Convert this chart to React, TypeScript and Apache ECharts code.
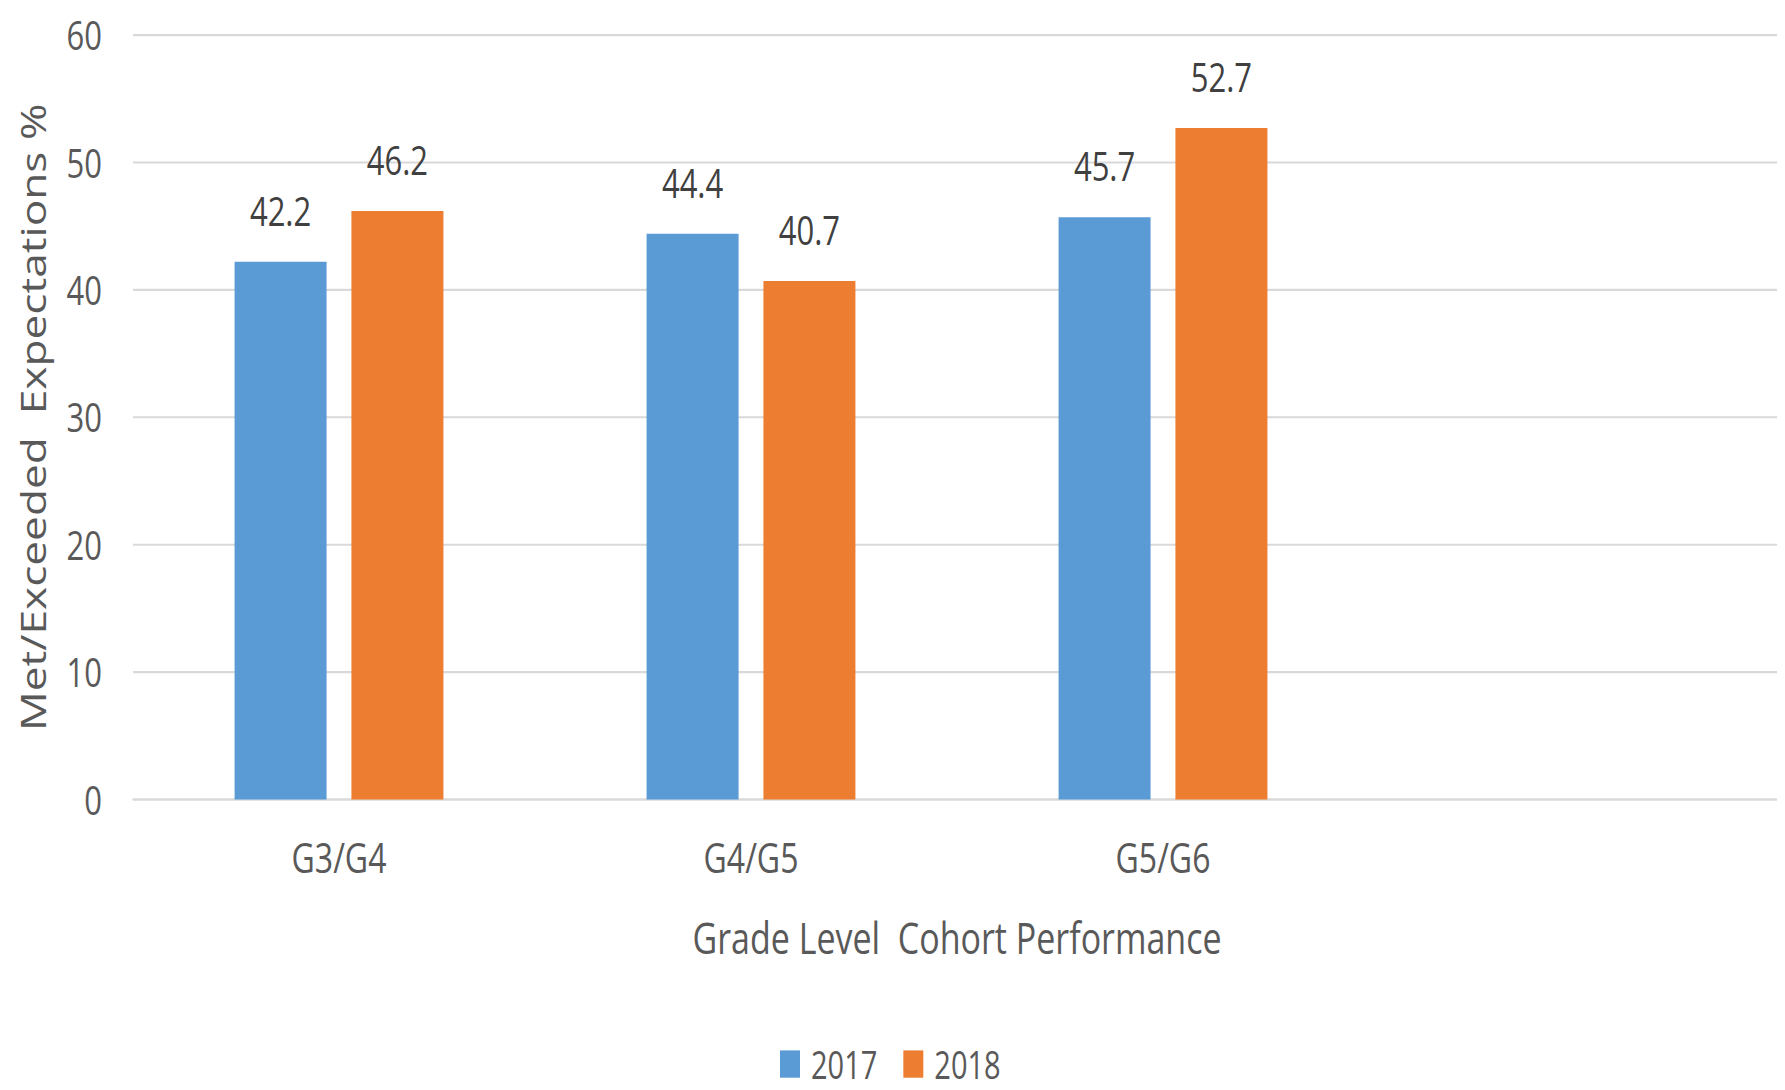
import React, { useEffect, useRef } from "react";
import * as echarts from "echarts";

const categories = ["G3/G4", "G4/G5", "G5/G6", ""];
const values2017 = [42.2, 44.4, 45.7];
const values2018 = [46.2, 40.7, 52.7];
const yTicks = { min: 0, max: 60, interval: 10 };

// The reference picture is vertically stretched; draw at 1/S height and stretch with CSS.
const S = 1.3;
const W = 1785;
const H = Math.round(1090 / S);
const FONT = "'Open Sans', 'Noto Sans', sans-serif";

export default function App() {
  const ref = useRef<HTMLDivElement>(null);
  useEffect(() => {
    if (!ref.current) return;
    const chart = echarts.init(ref.current, undefined, { renderer: "svg" });
    const label = {
      show: true,
      position: "top",
      distance: 24,
      fontFamily: FONT,
      fontSize: 31,
      color: "#404040",
    };
    chart.setOption({
      animation: false,
      backgroundColor: "#ffffff",
      grid: { left: 133, right: 4, top: 27, bottom: 223, containLabel: false },
      legend: {
        left: 780,
        top: 804,
        padding: 0,
        itemWidth: 20,
        itemHeight: 21,
        itemGap: 26,
        icon: "rect",
        textStyle: {
          fontFamily: FONT,
          fontSize: 29,
          color: "#595959",
          padding: [0, 0, 0, 6],
        },
        data: ["2017", "2018"],
      },
      xAxis: {
        type: "category",
        data: categories,
        name: "Grade Level  Cohort Performance",
        nameLocation: "middle",
        nameGap: 89,
        nameTextStyle: { fontFamily: FONT, fontSize: 34, color: "#595959" },
        axisLine: { lineStyle: { color: "#D9D9D9", width: 1.6 } },
        axisTick: { show: false },
        axisLabel: { fontFamily: FONT, fontSize: 32, color: "#595959", margin: 28 },
      },
      yAxis: {
        type: "value",
        min: yTicks.min,
        max: yTicks.max,
        interval: yTicks.interval,
        name: "Met/Exceeded  Expectations %",
        nameLocation: "middle",
        nameGap: 83,
        nameRotate: 90,
        nameTextStyle: { fontFamily: FONT, fontSize: 34, color: "#595959" },
        axisLine: { show: false },
        axisTick: { show: false },
        splitLine: { lineStyle: { color: "#D9D9D9", width: 1.6 } },
        axisLabel: { fontFamily: FONT, fontSize: 31, color: "#595959", margin: 31 },
      },
      series: [
        {
          name: "2017",
          type: "bar",
          data: values2017,
          barWidth: 92,
          barGap: "27%",
          itemStyle: { color: "#5B9BD5" },
          label,
        },
        {
          name: "2018",
          type: "bar",
          data: values2018,
          barWidth: 92,
          itemStyle: { color: "#ED7D31" },
          label,
        },
      ],
    });
    return () => chart.dispose();
  }, []);
  return (
    <div style={{ width: W, height: 1090, margin: -8, overflow: "hidden" }}>
      <div
        ref={ref}
        style={{ width: W, height: H, transform: `scaleY(${S})`, transformOrigin: "0 0" }}
      />
    </div>
  );
}
